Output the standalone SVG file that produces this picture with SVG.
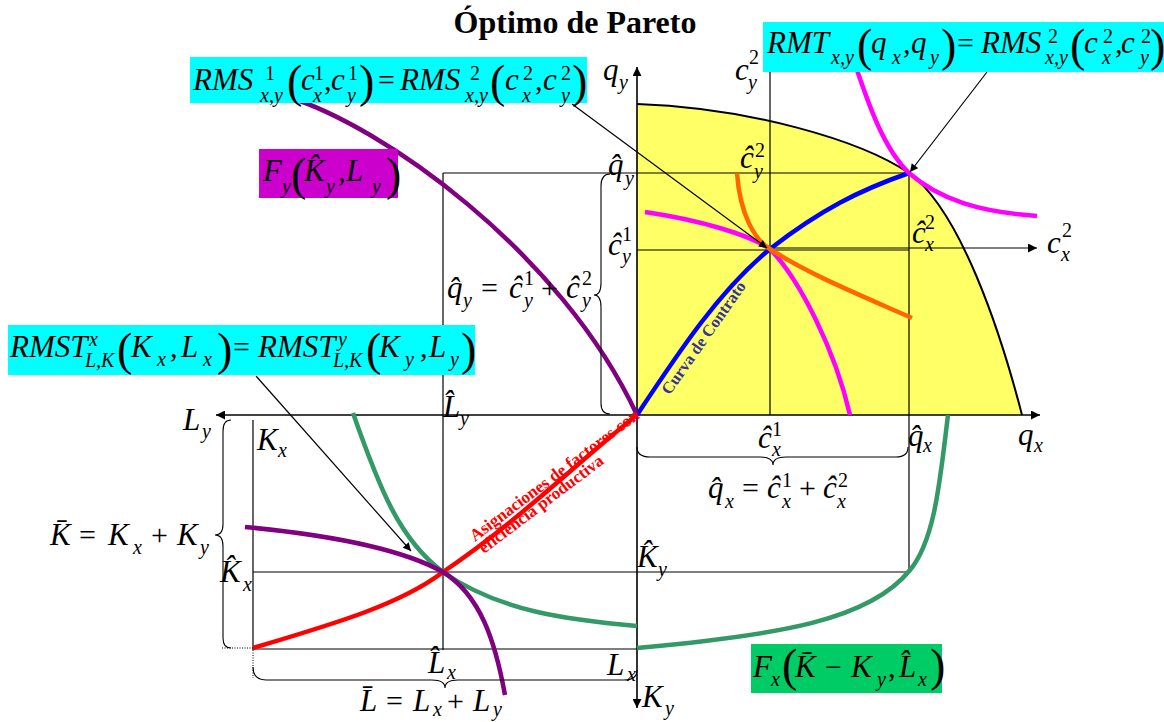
<svg xmlns="http://www.w3.org/2000/svg" width="1164" height="722" viewBox="0 0 1164 722">
<style>
.t{font-family:"Liberation Serif","Times New Roman",serif;fill:#000}
.i{font-style:italic;font-size:31px}
.s{font-style:italic;font-size:20px}
.n{font-size:20px}
.r{font-size:30px}
.p{font-size:46px}
.thin{stroke:#000;stroke-width:1.2;fill:none}
.ax{stroke:#000;stroke-width:1.6;fill:none}
.br{stroke:#000;stroke-width:1.1;fill:none}
.c{fill:none;stroke-width:4.5;stroke-linecap:butt}
</style>
<defs>
<marker id="ah" viewBox="0 0 10 10" refX="10" refY="5" markerWidth="12" markerHeight="9" markerUnits="userSpaceOnUse" orient="auto"><path d="M0,0 L10,5 L0,10 z" fill="#000"/></marker>
<marker id="ap" viewBox="0 0 10 10" refX="10" refY="5" markerWidth="11" markerHeight="8" markerUnits="userSpaceOnUse" orient="auto"><path d="M0,0 L10,5 L0,10 z" fill="#000"/></marker>
</defs>
<rect width="1164" height="722" fill="#fff"/>

<g id="frontier">
<path d="M637,104 C750,108 860,140 909,173 C960,210 1000,330 1022,415 L637,415 Z" fill="#FFFF66"/>
<path d="M637,104 C750,108 860,140 909,173 C960,210 1000,330 1022,415" fill="none" stroke="#000" stroke-width="2"/>
</g>

<g id="guides">
<line class="thin" x1="770" y1="70" x2="770" y2="415"/>
<line class="thin" x1="443" y1="173" x2="909" y2="173"/>
<line class="thin" x1="443" y1="173" x2="443" y2="650"/>
<line class="thin" x1="909" y1="173" x2="909" y2="572"/>
<line class="thin" x1="637" y1="250" x2="909" y2="250"/>
<line class="thin" x1="253" y1="572" x2="909" y2="572"/>
<line class="thin" x1="253" y1="420" x2="253" y2="650"/>
<line class="thin" x1="253" y1="649" x2="637" y2="649"/>
<line stroke="#000" stroke-width="1" stroke-dasharray="1,1.5" x1="222" y1="648" x2="253" y2="648"/>
<line stroke="#000" stroke-width="1" stroke-dasharray="1,1.5" x1="253" y1="650" x2="253" y2="678"/>
</g>

<g id="axes">
<line class="ax" x1="637" y1="415" x2="1040" y2="415" marker-end="url(#ah)"/>
<line class="ax" x1="637" y1="415" x2="216" y2="415" marker-end="url(#ah)"/>
<line class="ax" x1="637" y1="415" x2="637" y2="67" marker-end="url(#ah)"/>
<line class="ax" x1="637" y1="415" x2="637" y2="708" marker-end="url(#ah)"/>
<line class="thin" x1="770" y1="248" x2="1037" y2="248" marker-end="url(#ah)"/>
</g>

<g id="curves">
<path class="c" stroke="#0000FF" d="M637,415 C680,350 720,290 770,249 C820,210 860,190 909,173"/>
<path class="c" stroke="#FF00FF" d="M645,212 C700,220 750,235 770,249 C800,280 835,350 850,415"/>
<path class="c" stroke="#FF00FF" d="M852,55 C870,110 885,150 909,173 C940,200 980,212 1037,216"/>
<path class="c" stroke="#FF6600" d="M737,173 C740,215 755,240 770,249 C810,275 860,295 912,318"/>
<path class="c" stroke="#800080" d="M288,97 C380,125 560,250 637,415"/>
<path class="c" stroke="#FF0000" d="M253,648 C330,625 400,605 443,572 C520,520 580,460 637,415"/>
<path class="c" stroke="#339966" d="M353,413 C380,490 400,540 443,572 C500,612 570,620 637,626"/>
<path class="c" stroke="#800080" d="M245,527 C330,535 400,548 443,572 C480,595 495,640 505,695"/>
<path class="c" stroke="#339966" d="M948,415 C940,480 935,540 910,570 C870,620 780,635 637,648"/>
</g>

<g id="pointers">
<line class="thin" x1="572" y1="104" x2="767" y2="248" marker-end="url(#ap)"/>
<line class="thin" x1="987" y1="72" x2="910" y2="172" marker-end="url(#ap)"/>
<line class="thin" x1="256" y1="376" x2="411" y2="551" marker-end="url(#ap)"/>
</g>

<g id="braces">
<path class="br" d="M231,420 Q223,420 223,431 L223,524 Q223,535 215,535 Q223,535 223,546 L223,638 Q223,648 231,648"/>
<path class="br" d="M253,667 Q253,680 266,680 L432,680 Q445,680 445,688 Q445,680 458,680 L624,680 Q637,680 637,670"/>
<path class="br" d="M610,174 Q601,174 601,186 L601,283 Q601,295 594,295 Q601,295 601,307 L601,403 Q601,414 610,414"/>
<path class="br" d="M637,447 Q637,457 650,457 L760,457 Q773,457 773,465 Q773,457 786,457 L896,457 Q908,457 908,447"/>
</g>

<g id="title"><text class="t" x="575" y="33" text-anchor="middle" font-size="32" font-weight="bold">Óptimo de Pareto</text></g>

<g id="curve-labels">
<text class="t" transform="translate(708,341) rotate(-55)" text-anchor="middle" font-size="16.5" font-weight="bold" style="fill:#333399">Curva de Contrato</text>
<g transform="translate(475,542) rotate(-37)">
<text class="t" x="0" y="0" font-size="17" font-weight="bold" style="fill:#FF0000">Asignaciones de factores con</text>
<text class="t" x="0" y="15" font-size="17" font-weight="bold" style="fill:#FF0000">eficiencia productiva</text>
</g>
</g>

<g id="label-rms">
<rect x="190" y="57" width="397" height="46" fill="#00FFFF"/>
<text class="t">
<tspan class="i" x="193" y="90">RMS</tspan><tspan class="n" x="265" y="80">1</tspan><tspan class="s" x="260" y="102">x,</tspan><tspan class="s" x="274" y="102">y</tspan><tspan class="p" x="287" y="97">(</tspan><tspan class="i" x="301" y="90">c</tspan><tspan class="n" x="314" y="80">1</tspan><tspan class="s" x="313" y="102">x</tspan><tspan class="r" x="324" y="90">,</tspan><tspan class="i" x="331" y="90">c</tspan><tspan class="n" x="348" y="80">1</tspan><tspan class="s" x="347" y="102">y</tspan><tspan class="p" x="359" y="97">)</tspan><tspan class="r" x="378" y="90">=</tspan><tspan class="i" x="400" y="90">RMS</tspan><tspan class="n" x="470" y="80">2</tspan><tspan class="s" x="465" y="102">x,</tspan><tspan class="s" x="479" y="102">y</tspan><tspan class="p" x="490" y="97">(</tspan><tspan class="i" x="505" y="90">c</tspan><tspan class="n" x="523" y="80">2</tspan><tspan class="s" x="522" y="102">x</tspan><tspan class="r" x="535" y="90">,</tspan><tspan class="i" x="543" y="90">c</tspan><tspan class="n" x="561" y="80">2</tspan><tspan class="s" x="561" y="102">y</tspan><tspan class="p" x="572" y="97">)</tspan>
</text>
</g>

<g id="label-rmt">
<rect x="763" y="22" width="401" height="50" fill="#00FFFF"/>
<text class="t">
<tspan class="i" x="767" y="53">RMT</tspan><tspan class="s" x="831" y="64">x,</tspan><tspan class="s" x="845" y="64">y</tspan><tspan class="p" x="857" y="61">(</tspan><tspan class="i" x="871" y="53">q</tspan><tspan class="s" x="892" y="64">x</tspan><tspan class="r" x="903" y="53">,</tspan><tspan class="i" x="911" y="53">q</tspan><tspan class="s" x="930" y="64">y</tspan><tspan class="p" x="941" y="61">)</tspan><tspan class="r" x="957" y="53">=</tspan><tspan class="i" x="981" y="53">RMS</tspan><tspan class="n" x="1048" y="43">2</tspan><tspan class="s" x="1045" y="64">x,</tspan><tspan class="s" x="1059" y="64">y</tspan><tspan class="p" x="1070" y="61">(</tspan><tspan class="i" x="1084" y="53">c</tspan><tspan class="n" x="1103" y="43">2</tspan><tspan class="s" x="1102" y="64">x</tspan><tspan class="r" x="1115" y="53">,</tspan><tspan class="i" x="1121" y="53">c</tspan><tspan class="n" x="1141" y="43">2</tspan><tspan class="s" x="1140" y="64">y</tspan><tspan class="p" x="1150" y="61" font-size="42">)</tspan>
</text>
</g>

<g id="label-rmst">
<rect x="8" y="325" width="467" height="50" fill="#00FFFF"/>
<text class="t">
<tspan class="i" x="10" y="357">RMST</tspan><tspan class="s" x="89" y="346">x</tspan><tspan class="s" x="85" y="367">L,K</tspan><tspan class="p" x="117" y="365">(</tspan><tspan class="i" x="131" y="357">K</tspan><tspan class="s" x="157" y="366">x</tspan><tspan class="r" x="170" y="357">,</tspan><tspan class="i" x="181" y="357">L</tspan><tspan class="s" x="203" y="366">x</tspan><tspan class="p" x="217" y="365">)</tspan><tspan class="r" x="233" y="357">=</tspan><tspan class="i" x="258" y="357">RMST</tspan><tspan class="s" x="338" y="346">y</tspan><tspan class="s" x="333" y="367">L,K</tspan><tspan class="p" x="366" y="365">(</tspan><tspan class="i" x="379" y="357">K</tspan><tspan class="s" x="405" y="366">y</tspan><tspan class="r" x="420" y="357">,</tspan><tspan class="i" x="429" y="357">L</tspan><tspan class="s" x="450" y="366">y</tspan><tspan class="p" x="461" y="365">)</tspan>
</text>
</g>

<g id="label-fy">
<rect x="259" y="149" width="139" height="49" fill="#CC00CC"/>
<text class="t">
<tspan class="i" x="263" y="181" font-size="34">F</tspan><tspan class="s" x="282" y="193">y</tspan><tspan class="p" x="291" y="190">(</tspan><tspan class="i" x="304" y="181" font-size="34">K̂</tspan><tspan class="s" x="326" y="193">y</tspan><tspan class="r" x="338" y="181">,</tspan><tspan class="i" x="346" y="181" font-size="34">L</tspan><tspan class="s" x="372" y="193">y</tspan><tspan class="p" x="386" y="190">)</tspan>
</text>
</g>

<g id="label-fx">
<rect x="751" y="644" width="191" height="49" fill="#00CC66"/>
<text class="t">
<tspan class="i" x="753" y="677">F</tspan><tspan class="s" x="771" y="686">x</tspan><tspan class="p" x="782" y="681">(</tspan><tspan class="i" x="795" y="677">K̄</tspan><tspan class="r" x="825" y="677">−</tspan><tspan class="i" x="851" y="677">K</tspan><tspan class="s" x="877" y="686">y</tspan><tspan class="r" x="888" y="677">,</tspan><tspan class="i" x="899" y="677">L̂</tspan><tspan class="s" x="918" y="686">x</tspan><tspan class="p" x="930" y="681">)</tspan>
</text>
</g>

<g id="axis-labels">
<text class="t"><tspan class="i" x="603" y="80">q</tspan><tspan class="s" x="619" y="89">y</tspan></text>
<text class="t"><tspan class="i" x="735" y="80">c</tspan><tspan class="n" x="749" y="64">2</tspan><tspan class="s" x="748" y="89">y</tspan></text>
<text class="t"><tspan class="i" x="608" y="175">q̂</tspan><tspan class="s" x="625" y="185">y</tspan></text>
<text class="t"><tspan class="i" x="740" y="168">ĉ</tspan><tspan class="n" x="755" y="157">2</tspan><tspan class="s" x="754" y="178">y</tspan></text>
<text class="t"><tspan class="i" x="608" y="255">ĉ</tspan><tspan class="n" x="622" y="241">1</tspan><tspan class="s" x="622" y="263">y</tspan></text>
<text class="t"><tspan class="i" x="912" y="243">ĉ</tspan><tspan class="n" x="925" y="229">2</tspan><tspan class="s" x="925" y="251">x</tspan></text>
<text class="t"><tspan class="i" x="1047" y="253">c</tspan><tspan class="n" x="1062" y="237">2</tspan><tspan class="s" x="1061" y="261">x</tspan></text>
<text class="t"><tspan class="i" x="447" y="298">q̂</tspan><tspan class="s" x="463" y="307">y</tspan><tspan class="r" x="481" y="298">=</tspan><tspan class="i" x="509" y="298">ĉ</tspan><tspan class="n" x="524" y="285">1</tspan><tspan class="s" x="524" y="307">y</tspan><tspan class="r" x="541" y="298">+</tspan><tspan class="i" x="566" y="298">ĉ</tspan><tspan class="n" x="582" y="285">2</tspan><tspan class="s" x="582" y="307">y</tspan></text>
<text class="t"><tspan class="i" x="183" y="430">L</tspan><tspan class="s" x="202" y="438">y</tspan></text>
<text class="t"><tspan class="i" x="443" y="417">L̂</tspan><tspan class="s" x="460" y="425">y</tspan></text>
<text class="t"><tspan class="i" x="257" y="450">K</tspan><tspan class="s" x="278" y="457">x</tspan></text>
<text class="t"><tspan class="i" x="758" y="448">ĉ</tspan><tspan class="n" x="772" y="436">1</tspan><tspan class="s" x="772" y="456">x</tspan></text>
<text class="t"><tspan class="i" x="908" y="446">q̂</tspan><tspan class="s" x="923" y="452">x</tspan></text>
<text class="t"><tspan class="i" x="1018" y="445">q</tspan><tspan class="s" x="1034" y="452">x</tspan></text>
<text class="t"><tspan class="i" x="708" y="498">q̂</tspan><tspan class="s" x="725" y="508">x</tspan><tspan class="r" x="742" y="498">=</tspan><tspan class="i" x="767" y="498">ĉ</tspan><tspan class="n" x="782" y="487">1</tspan><tspan class="s" x="782" y="508">x</tspan><tspan class="r" x="799" y="498">+</tspan><tspan class="i" x="823" y="498">ĉ</tspan><tspan class="n" x="838" y="487">2</tspan><tspan class="s" x="837" y="508">x</tspan></text>
<text class="t"><tspan class="i" x="50" y="545">K̄</tspan><tspan class="r" x="79" y="545">=</tspan><tspan class="i" x="108" y="545">K</tspan><tspan class="s" x="133" y="554">x</tspan><tspan class="r" x="151" y="545">+</tspan><tspan class="i" x="177" y="545">K</tspan><tspan class="s" x="200" y="554">y</tspan></text>
<text class="t"><tspan class="i" x="220" y="582">K̂</tspan><tspan class="s" x="243" y="591">x</tspan></text>
<text class="t"><tspan class="i" x="637" y="567">K̂</tspan><tspan class="s" x="658" y="576">y</tspan></text>
<text class="t"><tspan class="i" x="428" y="673">L̂</tspan><tspan class="s" x="447" y="679">x</tspan></text>
<text class="t"><tspan class="i" x="607" y="675">L</tspan><tspan class="s" x="627" y="681">x</tspan></text>
<text class="t"><tspan class="i" x="360" y="711">L̄</tspan><tspan class="r" x="386" y="711">=</tspan><tspan class="i" x="413" y="711">L</tspan><tspan class="s" x="433" y="716">x</tspan><tspan class="r" x="447" y="711">+</tspan><tspan class="i" x="473" y="711">L</tspan><tspan class="s" x="493" y="716">y</tspan></text>
<text class="t"><tspan class="i" x="642" y="707">K</tspan><tspan class="s" x="665" y="715">y</tspan></text>
</g>
</svg>
